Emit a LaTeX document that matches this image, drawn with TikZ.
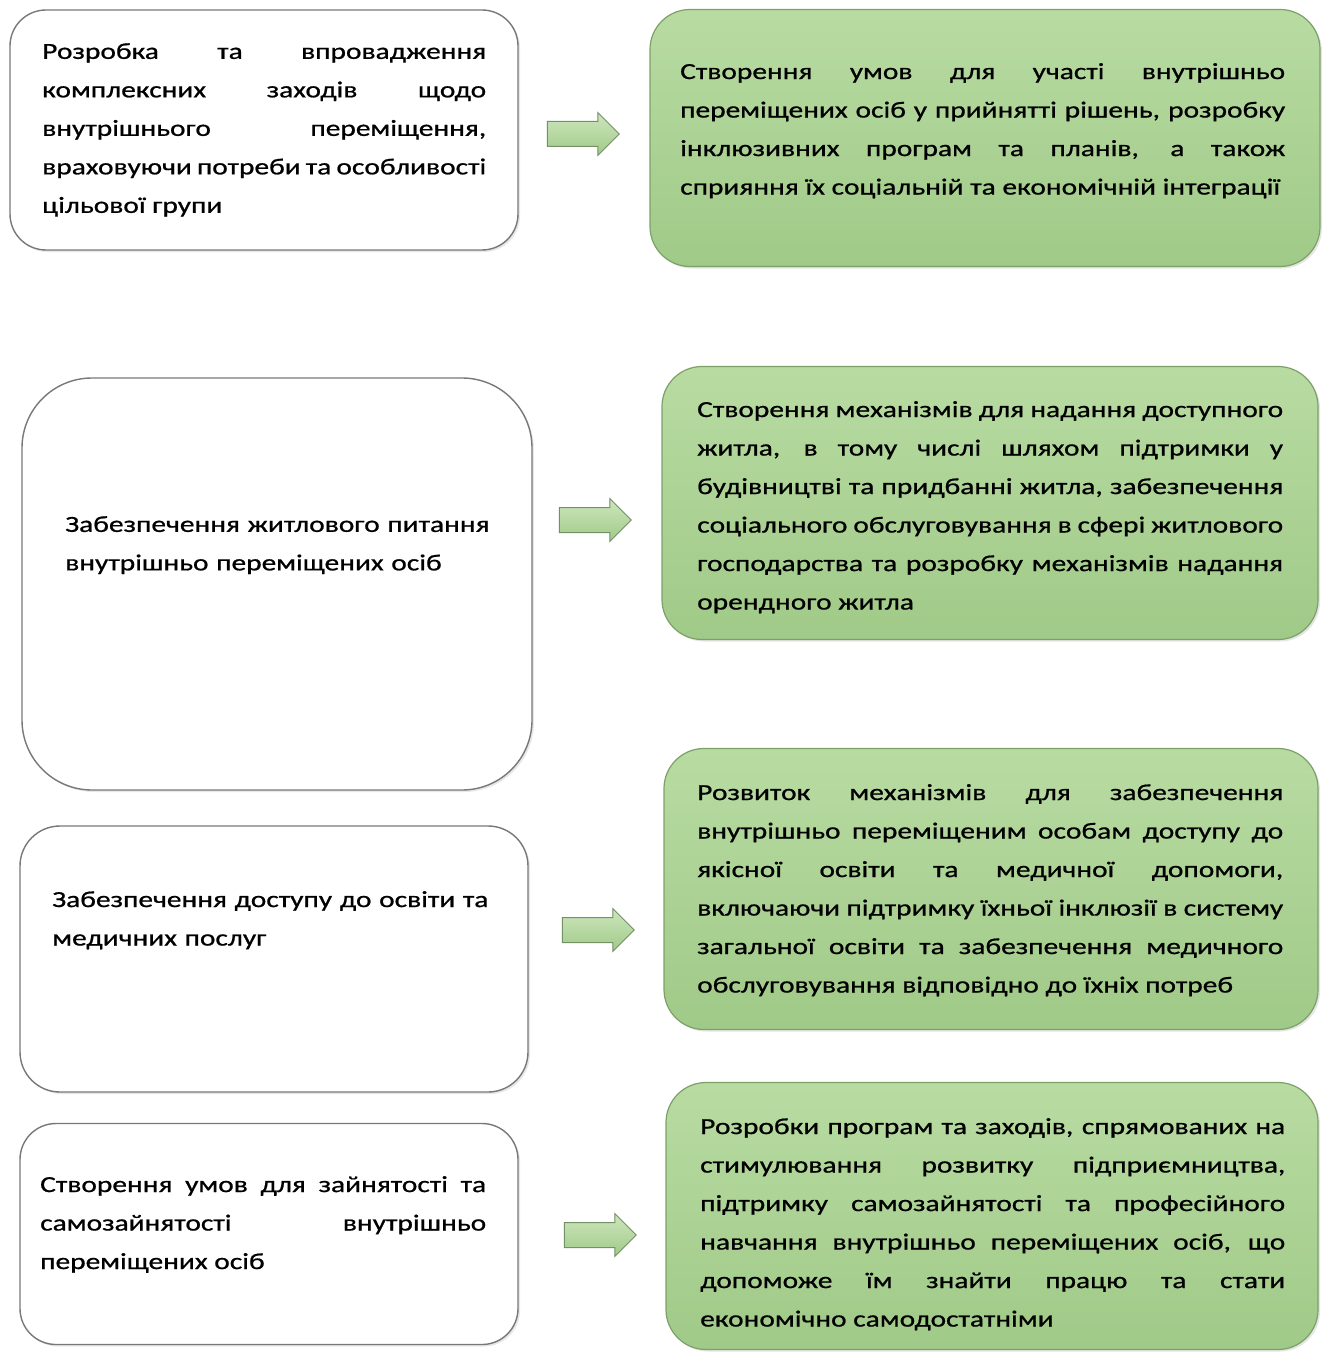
\documentclass[tikz,border=0pt]{standalone}
\usepackage{fontspec}
\setmainfont{Carlito}[FakeStretch=1.28, FakeBold=0.8]
\usetikzlibrary{shapes.arrows}
\usetikzlibrary{shadows}

\definecolor{boxline}{RGB}{120,120,120}
\definecolor{greenline}{RGB}{125,160,105}
\definecolor{greentop}{RGB}{184,219,162}
\definecolor{greenbot}{RGB}{160,202,136}
\definecolor{arrowline}{RGB}{115,145,100}

\tolerance=10000
\hbadness=10000
\hyphenpenalty=10000

\begin{document}
\begin{tikzpicture}[x=1pt, y=-1pt,
    leftbox/.style={rectangle, draw=boxline, line width=1.4pt, fill=white,
        rounded corners=#1, drop shadow={opacity=0.18, shadow xshift=2pt, shadow yshift=-2pt}},
    greenbox/.style={rectangle, draw=greenline, line width=1.2pt,
        top color=greentop, bottom color=greenbot,
        rounded corners=#1, drop shadow={opacity=0.2, shadow xshift=2pt, shadow yshift=-2pt}},
    txt/.style={anchor=north west, inner sep=0pt, align=justify,
        font=\fontsize{23}{38.5}\selectfont},
    blockarrow/.style={single arrow, draw=arrowline, line width=1pt,
        top color=greentop!70!white, bottom color=greenbot,
        minimum height=72pt, inner xsep=0pt, inner ysep=12pt,
        single arrow head extend=9pt}
]
    \useasboundingbox (0,0) rectangle (1327,1359);
    \fill[white] (0,0) rectangle (1327,1359);

    % left column
    \node[leftbox=36pt, minimum width=508pt, minimum height=240pt] (l1) at (264,130) {};
    \node[leftbox=70pt, minimum width=510pt, minimum height=412pt] (l2) at (277,584) {};
    \node[leftbox=40pt, minimum width=508pt, minimum height=266pt] (l3) at (274,959) {};
    \node[leftbox=36pt, minimum width=498pt, minimum height=221pt] (l4) at (269,1234) {};

    % right column
    \node[greenbox=40pt, minimum width=670pt, minimum height=257pt] (r1) at (985,138) {};
    \node[greenbox=40pt, minimum width=656pt, minimum height=273pt] (r2) at (990,503) {};
    \node[greenbox=40pt, minimum width=654pt, minimum height=281pt] (r3) at (991,889) {};
    \node[greenbox=40pt, minimum width=652pt, minimum height=267pt] (r4) at (992,1216) {};

    \node[txt, text width=444pt] (l1t) at (42,43)
        {Розробка та впровадження\linebreak комплексних заходів щодо\linebreak
         внутрішнього переміщення,\linebreak враховуючи потреби та особливості\linebreak
         цільової групи};
    \node[txt, text width=430pt, align=left] (l2t) at (65,516)
        {Забезпечення житлового питання\\ внутрішньо переміщених осіб};
    \node[txt, text width=441pt, align=left] (l3t) at (52,891)
        {Забезпечення доступу до освіти та\\ медичних послуг};
    \node[txt, text width=446pt] (l4t) at (40,1176)
        {Створення умов для зайнятості та\linebreak самозайнятості внутрішньо\linebreak
         переміщених осіб};

    \node[txt, text width=605pt] (r1t) at (680,63)
        {Створення умов для участі внутрішньо\linebreak переміщених осіб у прийнятті рішень, розробку\linebreak
         інклюзивних програм та планів, а також\linebreak сприяння їх соціальній та економічній інтеграції};
    \node[txt, text width=586pt] (r2t) at (697,401)
        {Створення механізмів для надання доступного\linebreak житла, в тому числі шляхом підтримки у\linebreak
         будівництві та придбанні житла, забезпечення\linebreak соціального обслуговування в сфері житлового\linebreak
         господарства та розробку механізмів надання\linebreak орендного житла};
    \node[txt, text width=586pt] (r3t) at (697,784)
        {Розвиток механізмів для забезпечення\linebreak внутрішньо переміщеним особам доступу до\linebreak
         якісної освіти та медичної допомоги,\linebreak включаючи підтримку їхньої інклюзії в систему\linebreak
         загальної освіти та забезпечення медичного\linebreak обслуговування відповідно до їхніх потреб};
    \node[txt, text width=585pt] (r4t) at (700,1118)
        {Розробки програм та заходів, спрямованих на\linebreak стимулювання розвитку підприємництва,\linebreak
         підтримку самозайнятості та професійного\linebreak навчання внутрішньо переміщених осіб, що\linebreak
         допоможе їм знайти працю та стати\linebreak економічно самодостатніми};

    % arrows between the columns
    \foreach \n/\x/\y in {1/577/134, 2/589/520, 3/592/930, 4/594/1235}{
        \node[blockarrow] (a\n) at (\x,\y) {};
    }

\end{tikzpicture}
\end{document}
